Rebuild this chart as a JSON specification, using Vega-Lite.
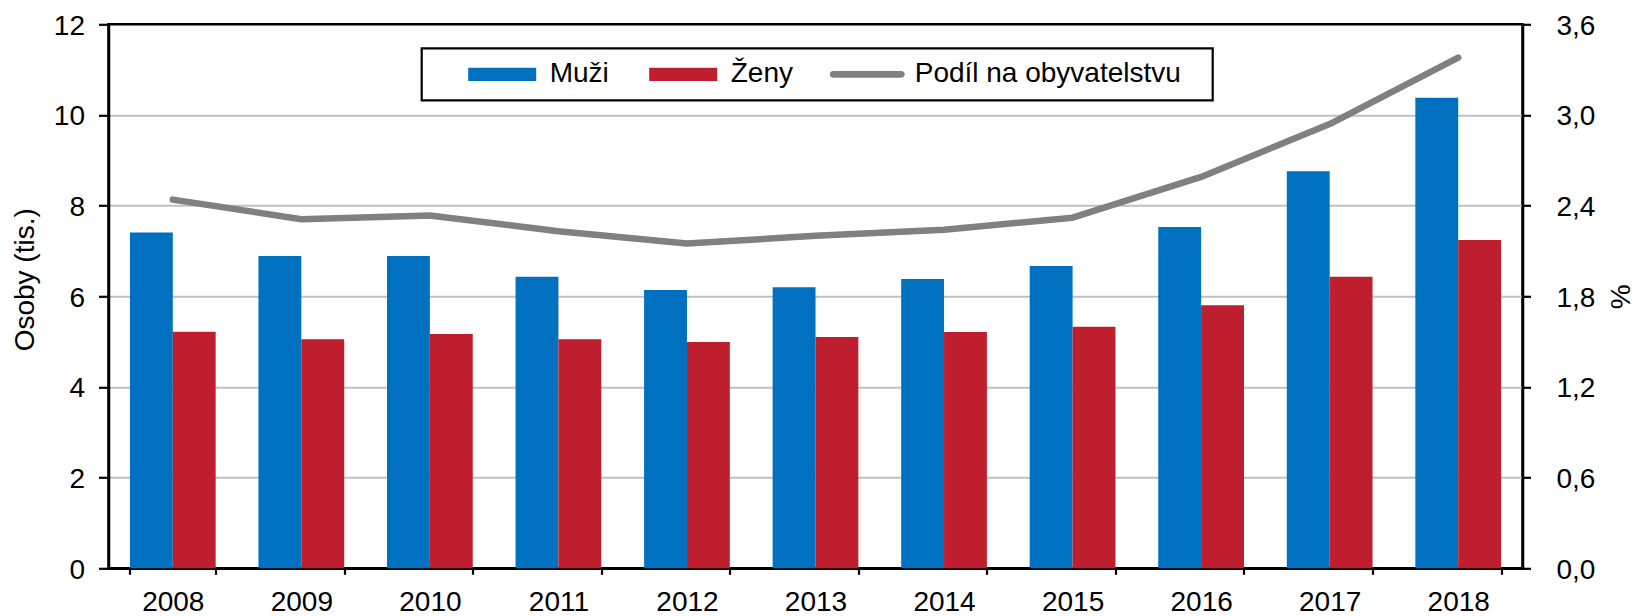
{
  "$schema": "https://vega.github.io/schema/vega-lite/v6.json",
  "width": 1414,
  "height": 544,
  "autosize": {"type": "none"},
  "padding": {"left": 108.5, "top": 24.3, "right": 114.5, "bottom": 47.7},
  "background": "white",
  "config": {
    "font": "Liberation Sans",
    "view": {"stroke": "black", "strokeWidth": 2.5},
    "axis": {
      "labelColor": "black",
      "titleColor": "black",
      "labelFontSize": 28,
      "titleFontSize": 28,
      "titleFontWeight": "normal",
      "domainColor": "black",
      "domainWidth": 2.5,
      "tickColor": "black",
      "tickWidth": 2.2
    },
    "legend": {"labelColor": "black"}
  },
  "datasets": {
    "bars": [
      {"rok": "2008", "pohlavi": "Muži", "osoby": 7.41},
      {"rok": "2008", "pohlavi": "Ženy", "osoby": 5.22},
      {"rok": "2009", "pohlavi": "Muži", "osoby": 6.89},
      {"rok": "2009", "pohlavi": "Ženy", "osoby": 5.05},
      {"rok": "2010", "pohlavi": "Muži", "osoby": 6.89},
      {"rok": "2010", "pohlavi": "Ženy", "osoby": 5.17},
      {"rok": "2011", "pohlavi": "Muži", "osoby": 6.43},
      {"rok": "2011", "pohlavi": "Ženy", "osoby": 5.05},
      {"rok": "2012", "pohlavi": "Muži", "osoby": 6.14},
      {"rok": "2012", "pohlavi": "Ženy", "osoby": 4.99},
      {"rok": "2013", "pohlavi": "Muži", "osoby": 6.20},
      {"rok": "2013", "pohlavi": "Ženy", "osoby": 5.10},
      {"rok": "2014", "pohlavi": "Muži", "osoby": 6.38},
      {"rok": "2014", "pohlavi": "Ženy", "osoby": 5.21},
      {"rok": "2015", "pohlavi": "Muži", "osoby": 6.67},
      {"rok": "2015", "pohlavi": "Ženy", "osoby": 5.33},
      {"rok": "2016", "pohlavi": "Muži", "osoby": 7.53},
      {"rok": "2016", "pohlavi": "Ženy", "osoby": 5.80},
      {"rok": "2017", "pohlavi": "Muži", "osoby": 8.76},
      {"rok": "2017", "pohlavi": "Ženy", "osoby": 6.43},
      {"rok": "2018", "pohlavi": "Muži", "osoby": 10.38},
      {"rok": "2018", "pohlavi": "Ženy", "osoby": 7.24}
    ],
    "share": [
      {"rok": "2008", "podil": 2.44},
      {"rok": "2009", "podil": 2.31},
      {"rok": "2010", "podil": 2.335},
      {"rok": "2011", "podil": 2.23},
      {"rok": "2012", "podil": 2.15},
      {"rok": "2013", "podil": 2.20},
      {"rok": "2014", "podil": 2.24},
      {"rok": "2015", "podil": 2.32},
      {"rok": "2016", "podil": 2.59},
      {"rok": "2017", "podil": 2.94},
      {"rok": "2018", "podil": 3.38}
    ]
  },
  "layer": [
    {
      "data": {"name": "bars"},
      "mark": {"type": "bar"},
      "encoding": {
        "x": {
          "field": "rok",
          "type": "nominal",
          "scale": {"paddingInner": 0.333, "paddingOuter": 0.1667},
          "axis": {
            "title": null,
            "labelAngle": 0,
            "tickBand": "extent",
            "tickSize": 6,
            "labelPadding": 14,
            "grid": false
          }
        },
        "xOffset": {"field": "pohlavi", "type": "nominal", "sort": ["Muži", "Ženy"]},
        "y": {
          "field": "osoby",
          "type": "quantitative",
          "scale": {"domain": [0, 12], "nice": false},
          "axis": {
            "title": "Osoby (tis.)",
            "values": [0, 2, 4, 6, 8, 10, 12],
            "tickSize": 10,
            "labelPadding": 14,
            "labelOffset": 2,
            "grid": true,
            "gridColor": {"condition": {"test": "datum.value == 0 || datum.value == 12", "value": "transparent"}, "value": "#c0c0c0"},
            "gridWidth": 2,
            "titleX": -75,
            "titleY": 255,
            "titleAngle": -90,
            "titleAlign": "center",
            "titleBaseline": "alphabetic"
          }
        },
        "color": {
          "field": "pohlavi",
          "type": "nominal",
          "scale": {
            "domain": ["Muži", "Ženy", "Podíl na obyvatelstvu"],
            "range": ["#0070C0", "#BE1E2D", "#808080"]
          },
          "legend": {
            "orient": "none",
            "legendX": 313.2,
            "legendY": 24,
            "direction": "horizontal",
            "title": "\u00a0",
            "titleOrient": "left",
            "titlePadding": 33,
            "titleFontSize": 28,
            "strokeColor": "black",
            "fillColor": "white",
            "padding": 10,
            "symbolType": "M-0.907,-0.177H0.907V0.177H-0.907Z",
            "symbolSize": 5625,
            "symbolStrokeWidth": 0,
            "clipHeight": 32,
            "labelFontSize": 28,
            "labelOffset": 10,
            "labelLimit": 600,
            "columnPadding": 36,
            "labelExpr": "datum.value == 'Podíl na obyvatelstvu' ? datum.label + '\u2800' : datum.label",
            "encode": {
              "legend": {
                "update": {
                  "strokeWidth": {"value": 2.2}
                }
              },
              "symbols": {
                "update": {
                  "shape": {"signal": "datum.value == 'Podíl na obyvatelstvu' ? 'M-1,0A0.09,0.09 0 0 1 -0.91,-0.09H0.91A0.09,0.09 0 0 1 0.91,0.09H-0.91A0.09,0.09 0 0 1 -1,0Z' : 'M-0.907,-0.177H0.907V0.177H-0.907Z'"},
                  "fill": {"scale": "color", "field": "value"},
                  "stroke": {"value": "transparent"},
                  "opacity": {"value": 1}
                }
              }
            }
          }
        }
      }
    },
    {
      "data": {"name": "share"},
      "mark": {"type": "line", "strokeWidth": 6.5, "strokeCap": "round", "strokeJoin": "round"},
      "encoding": {
        "x": {"field": "rok", "type": "nominal"},
        "y": {
          "field": "podil",
          "type": "quantitative",
          "scale": {"domain": [0, 3.6], "nice": false},
          "axis": {
            "orient": "right",
            "title": "%",
            "values": [0, 0.6, 1.2, 1.8, 2.4, 3.0, 3.6],
            "labelExpr": "replace(format(datum.value, '.1f'), '.', ',')",
            "tickSize": 8,
            "labelPadding": 25.5,
            "labelOffset": 2,
            "grid": false,
            "titleX": 107,
            "titleY": 272,
            "titleAngle": -90,
            "titleAlign": "center",
            "titleBaseline": "alphabetic"
          }
        },
        "color": {"datum": "Podíl na obyvatelstvu", "type": "nominal"}
      }
    }
  ],
  "resolve": {"scale": {"y": "independent"}}
}
